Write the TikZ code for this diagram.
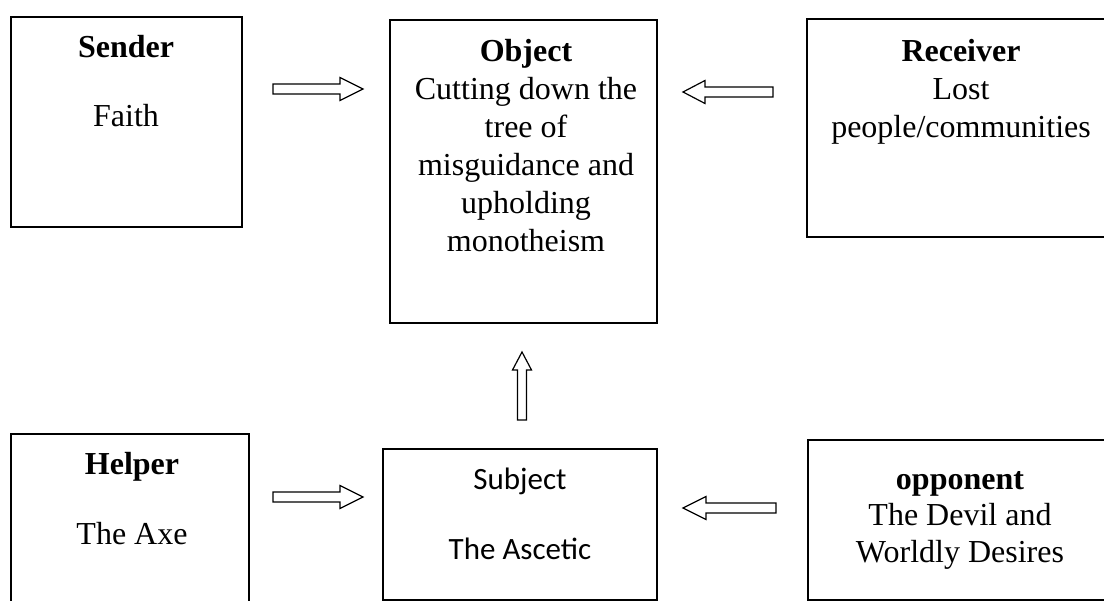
\documentclass[tikz,border=0pt]{standalone}
\usepackage{fontspec}
\setmainfont{Liberation Serif}
\newfontfamily\calib{Carlito}
\usetikzlibrary{calc}
\tikzset{
  box/.style={draw, line width=1.4pt, inner sep=0pt, rectangle},
  txt/.style={anchor=base, inner sep=0pt, font=\fontsize{32}{36}\selectfont},
  ctxt/.style={anchor=base, inner sep=0pt, font=\calib\fontsize{31}{36}\selectfont},
  blk/.style={draw, line width=1.2pt, fill=white, line join=miter}
}
\begin{document}
\begin{tikzpicture}[x=1pt,y=-1pt]
\useasboundingbox (0,0) rectangle (1104,601);
\clip (0,0) rectangle (1104,601);
\fill[white] (0,0) rectangle (1104,601);
% boxes
\node[box, minimum width=231pt, minimum height=210pt] (sender) at (126.5,122) {};
\node[box, minimum width=267pt, minimum height=303pt] (object) at (523.5,171.5) {};
\node[box, minimum width=313pt, minimum height=218pt] (receiver) at (963.5,128) {};
\node[box, minimum width=238pt, minimum height=196pt] (helper) at (130,532) {};
\node[box, minimum width=274pt, minimum height=151pt] (subject) at (520,524.5) {};
\node[box, minimum width=312pt, minimum height=160pt] (opponent) at (964,520) {};
% texts
\node[txt] (t1) at (126,58) {\bfseries Sender};
\node[txt] (t2) at (126,127) {Faith};
\node[txt] (t3) at (526,62) {\bfseries Object};
\node[txt] (t4) at (526,100) {Cutting down the};
\node[txt] (t5) at (526,138) {tree of};
\node[txt] (t6) at (526,176) {misguidance and};
\node[txt] (t7) at (526,214) {upholding};
\node[txt] (t8) at (526,252) {monotheism};
\node[txt] (t9) at (961,62) {\bfseries Receiver};
\node[txt] (t10) at (961,100) {Lost};
\node[txt] (t11) at (961,138) {people/communities};
\node[txt] (t12) at (132,475) {\bfseries Helper};
\node[txt] (t13) at (132,545) {The Axe};
\node[ctxt] (t14) at (520,490) {Subject};
\node[ctxt] (t15) at (520,560) {The Ascetic};
\node[txt] (t16) at (960,490) {\bfseries opponent};
\node[txt] (t17) at (960,526) {The Devil and};
\node[txt] (t18) at (960,562) {Worldly Desires};
% arrow anchors
\coordinate (a1) at (273,89);
\coordinate (a2) at (773,92);
\coordinate (a3) at (522,420);
\coordinate (a4) at (273,497);
\coordinate (a5) at (776,508);
% block arrows
\draw[blk] (a1) ++(0,-5) -- ++(67,0) -- ++(0,-6.5) -- ++(23,11.5) -- ++(-23,11.5) -- ++(0,-6.5) -- ++(-67,0) -- cycle;
\draw[blk] (a2) ++(0,-5) -- ++(-68,0) -- ++(0,-6.5) -- ++(-22,11.5) -- ++(22,11.5) -- ++(0,-6.5) -- ++(68,0) -- cycle;
\draw[blk] (a3) ++(-4.5,0) -- ++(0,-50) -- ++(-5,0) -- ++(9.5,-18) -- ++(9.5,18) -- ++(-5,0) -- ++(0,50) -- cycle;
\draw[blk] (a4) ++(0,-5) -- ++(67,0) -- ++(0,-6.5) -- ++(23,11.5) -- ++(-23,11.5) -- ++(0,-6.5) -- ++(-67,0) -- cycle;
\draw[blk] (a5) ++(0,-5) -- ++(-70,0) -- ++(0,-6.5) -- ++(-23,11.5) -- ++(23,11.5) -- ++(0,-6.5) -- ++(70,0) -- cycle;
\end{tikzpicture}
\end{document}
